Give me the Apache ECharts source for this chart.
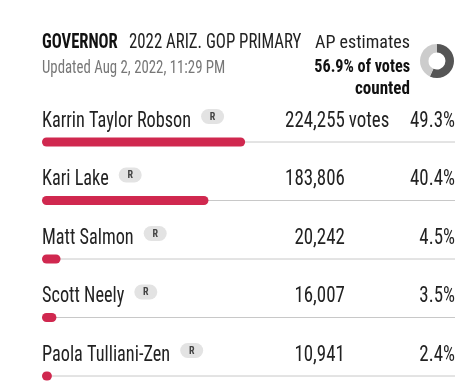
<!DOCTYPE html>
<html>
<head>
<meta charset="utf-8">
<script src="https://cdn.jsdelivr.net/npm/echarts@6/dist/echarts.min.js"></script>
<style>
html,body{margin:0;padding:0;background:#fff;}
#chart{width:474px;height:382px;}
</style>
</head>
<body>
<div id="chart"></div>
<script>
var candidates = ['Karrin Taylor Robson', 'Kari Lake', 'Matt Salmon', 'Scott Neely', 'Paola Tulliani-Zen'];
var party = ['R', 'R', 'R', 'R', 'R'];
var votes = [224255, 183806, 20242, 16007, 10941];
var percents = [49.3, 40.4, 4.5, 3.5, 2.4];
var countedPct = [56.9, 43.1];

var FONT = "'Roboto Condensed','Liberation Sans Narrow','DejaVu Sans Condensed','Arial Narrow',sans-serif";
var BAR_COLOR = '#d0284f';
var ROW_FONT = '22px ' + FONT;
var ROW_SCALE = 0.83;
var NUM_SCALE = 0.86;

function fmt(n){ return n.toString().replace(/\B(?=(\d{3})+(?!\d))/g, ','); }

var measureCtx = document.createElement('canvas').getContext('2d');
function textWidth(t, font){ measureCtx.font = font; return measureCtx.measureText(t).width; }

var chart = echarts.init(document.getElementById('chart'), null, {renderer: 'canvas'});

var data = percents.map(function(p, i){ return [p, i]; });

function hText(x, y, text, font, fill, align, sx){
  return {type: 'text', x: x, y: y, scaleX: sx || 1, silent: true,
    style: {text: text, font: font, fill: fill, align: align || 'left', verticalAlign: 'middle'}};
}

chart.setOption({
  animation: false,
  backgroundColor: '#fff',
  grid: {left: 42, width: 412, top: 142, bottom: 6},
  xAxis: {type: 'value', min: 0, max: 100, show: false},
  yAxis: {type: 'category', data: candidates, inverse: true, boundaryGap: false, show: false},
  graphic: [
    hText(42, 43, 'GOVERNOR', 'bold 21px ' + FONT, '#111', 'left', 0.79),
    hText(129, 43, '2022 ARIZ. GOP PRIMARY', '21px ' + FONT, '#222', 'left', 0.8),
    hText(42, 68.5, 'Updated Aug 2, 2022, 11:29 PM', '19px ' + FONT, '#777', 'left', 0.78),
    hText(410, 43, 'AP estimates', '19px ' + FONT, '#222', 'right', 0.95),
    hText(410, 67, countedPct[0] + '% of votes', 'bold 18px ' + FONT, '#111', 'right', 0.9),
    hText(410, 89.5, 'counted', 'bold 18px ' + FONT, '#111', 'right', 0.95)
  ],
  series: [
    {
      type: 'pie',
      silent: true,
      center: [437, 61],
      radius: [8.5, 17],
      startAngle: 90,
      clockwise: true,
      label: {show: false},
      labelLine: {show: false},
      data: [
        {value: countedPct[0], itemStyle: {color: '#555'}},
        {value: countedPct[1], itemStyle: {color: '#ccc'}}
      ]
    },
    {
      type: 'custom',
      silent: true,
      clip: false,
      data: data,
      renderItem: function(params, api){
        var i = api.value(1);
        var v = api.value(0);
        var start = api.coord([0, i]);
        var end = api.coord([v, i]);
        var full = api.coord([100, i]);
        var y = start[1];
        var h = 9;
        var w = Math.max(end[0] - start[0], h);
        var textY = y - 21;
        var voteX = start[0] + (full[0] - start[0]) * 0.735;
        var nameW = textWidth(candidates[i], ROW_FONT) * ROW_SCALE;
        var bx = start[0] + nameW + 10;
        var children = [
          {type: 'line', shape: {x1: start[0], y1: y, x2: full[0] + 1, y2: y}, style: {stroke: '#c8c8c8', lineWidth: 1}},
          {type: 'rect', shape: {x: start[0], y: y - h / 2, width: w, height: h, r: h / 2}, style: {fill: BAR_COLOR}},
          hText(start[0], textY, candidates[i], ROW_FONT, '#222', 'left', ROW_SCALE),
          {type: 'rect', shape: {x: bx, y: y - 33, width: 23, height: 15, r: 7.5}, style: {fill: '#e3e3e3'}},
          hText(bx + 11.5, y - 25, party[i], 'bold 10px ' + FONT, '#444', 'center', 1),
          hText(voteX, textY, fmt(votes[i]), ROW_FONT, '#222', 'right', NUM_SCALE),
          hText(full[0] + 1, textY, percents[i].toFixed(1) + '%', ROW_FONT, '#222', 'right', NUM_SCALE)
        ];
        if (i === 0) {
          children.push(hText(voteX + 4, textY, 'votes', ROW_FONT, '#222', 'left', NUM_SCALE));
        }
        return {type: 'group', children: children};
      }
    }
  ]
});
</script>
</body>
</html>
